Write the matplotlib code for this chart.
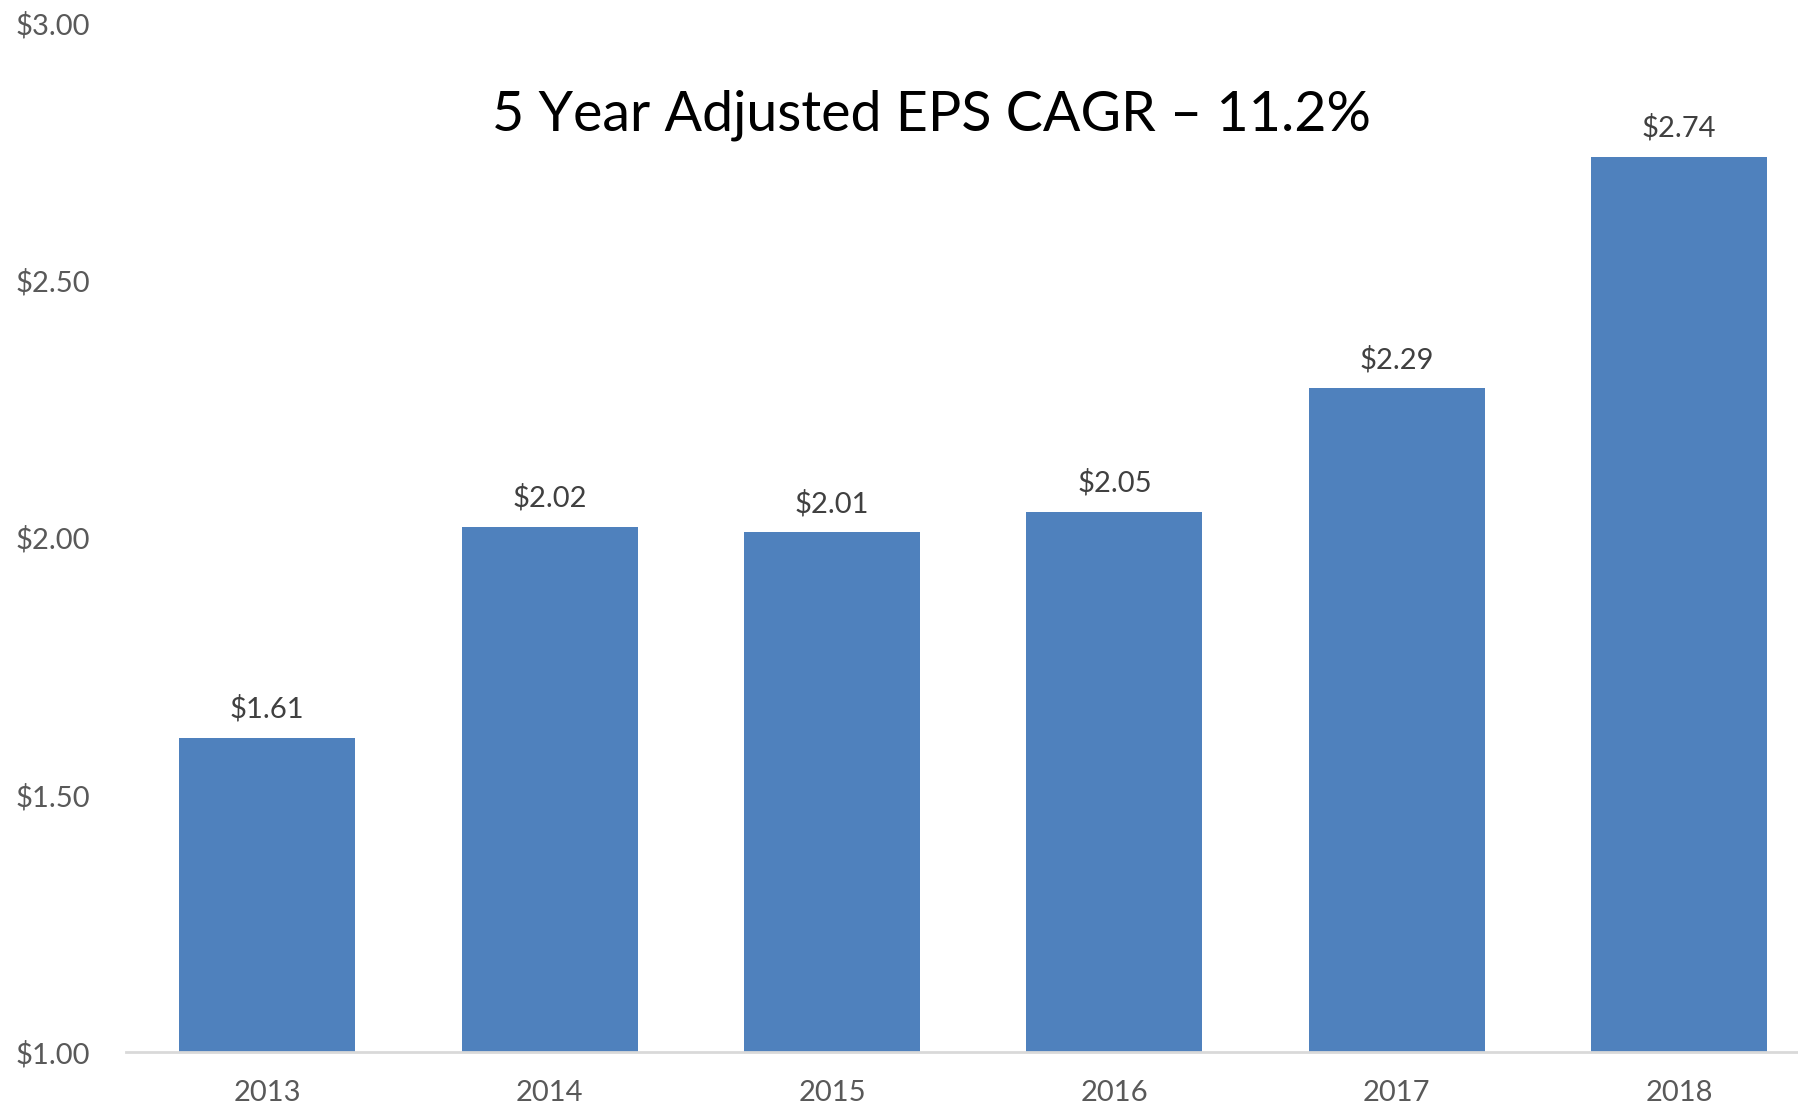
import matplotlib.pyplot as plt
import matplotlib.ticker as mticker

plt.rcParams['font.family'] = ['Lato', 'DejaVu Sans']

# Data
years = ['2013', '2014', '2015', '2016', '2017', '2018']
eps = [1.61, 2.02, 2.01, 2.05, 2.29, 2.74]
y_ticks = [1.00, 1.50, 2.00, 2.50, 3.00]
title = '5 Year Adjusted EPS CAGR \u2013 11.2%'

W, H = 1799, 1107
fig = plt.figure(figsize=(W / 100, H / 100), dpi=100)
# plot area runs off the right edge like the cropped original
ax = fig.add_axes([126 / W, (H - 1052) / H, 6 * 282.4 / W, 1029 / H])

x = range(len(years))
ax.bar(x, eps, width=0.623, color='#4F81BD', bottom=0)
ax.set_xlim(-0.5, 5.5)
ax.set_ylim(1, 3)

for i, v in zip(x, eps):
    ax.annotate(f'${v:.2f}', (i, v), xytext=(0, 11), textcoords='offset points',
                ha='center', va='bottom', fontsize=21, color='#404040')

ax.set_yticks(y_ticks)
ax.yaxis.set_major_formatter(mticker.FuncFormatter(lambda v, p: f'${v:.2f}'))
ax.set_xticks(list(x))
ax.set_xticklabels(years)
ax.tick_params(axis='both', length=0, labelsize=21, colors='#595959')
ax.tick_params(axis='y', pad=26)
ax.tick_params(axis='x', pad=20)

for s in ['top', 'right', 'left']:
    ax.spines[s].set_visible(False)
ax.spines['bottom'].set_color('#D9D9D9')
ax.spines['bottom'].set_linewidth(2)

fig.text(932 / W, 1 - 115 / H, title, ha='center', va='center', fontsize=40, color='black')

fig.savefig('out.png', dpi=100)
